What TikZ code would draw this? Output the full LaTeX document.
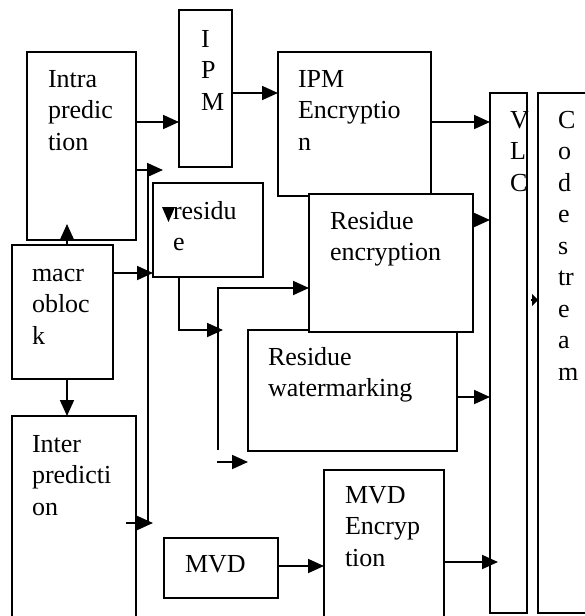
\documentclass[tikz,border=0pt]{standalone}
\usepackage{fontspec}
\setmainfont{Liberation Serif}
\usetikzlibrary{arrows.meta}
\newcommand\fstrut{\rule{0pt}{20pt}}
\begin{document}
\begin{tikzpicture}[x=1pt,y=-1pt,
  box/.style={draw, line width=1.6pt, fill=white, inner sep=0pt, outer sep=0pt},
  txt/.style={anchor=north west, inner sep=0pt, outer sep=0pt, align=left,
    font=\fontsize{26}{31.5}\selectfont},
  arr/.style={-{Triangle[length=16pt,width=14pt]}, line width=1.8pt},
  ln/.style={line width=1.8pt}]
\useasboundingbox (0,0) rectangle (585,616);
\fill[white] (0,0) rectangle (585,616);
\clip (0,0) rectangle (585,616);
% boxes
\node[box, minimum width=53pt, minimum height=157pt] (ipm) at (205.5,88.5) {};
\node[box, minimum width=109pt, minimum height=188pt] (intra) at (81.5,146) {};
\node[box, minimum width=153pt, minimum height=144pt] (ipmenc) at (354.5,124) {};
\node[box, minimum width=37pt, minimum height=520pt] (vlc) at (508.5,353) {};
\node[box, minimum width=62pt, minimum height=520pt] (code) at (569,353) {};
\node[box, minimum width=110pt, minimum height=94pt] (residue) at (208,230) {};
\node[box, minimum width=101pt, minimum height=134pt] (macro) at (62.5,312) {};
\node[box, minimum width=209pt, minimum height=121pt] (wm) at (352.5,390.5) {};
\node[box, minimum width=164pt, minimum height=138pt] (resenc) at (391,263) {};
\node[box, minimum width=124pt, minimum height=224pt] (inter) at (74,528) {};
\node[box, minimum width=114pt, minimum height=60pt] (mvd) at (221,568) {};
\node[box, minimum width=120pt, minimum height=170pt] (mvdenc) at (384,555) {};
% texts
\node[txt] (tintra) at (48,67) {\fstrut Intra\\predic\\tion};
\node[txt] (tipm) at (201,27) {\fstrut I\\P\\M};
\node[txt] (tipmenc) at (298,67) {\fstrut IPM\\Encryptio\\n};
\node[txt] (tres) at (173,199) {\fstrut residu\\e};
\node[txt] (tmacro) at (32,261) {\fstrut macr\\obloc\\k};
\node[txt] (tinter) at (32,432) {\fstrut Inter\\predicti\\on};
\node[txt] (tresenc) at (330,209) {\fstrut Residue\\encryption};
\node[txt] (twm) at (268,345) {\fstrut Residue\\watermarking};
\node[txt] (tmvd) at (185,552) {\fstrut MVD};
\node[txt] (tmvdenc) at (345,483) {\fstrut MVD\\Encryp\\tion};
\node[txt] (tvlc) at (510,108) {\fstrut V\\L\\C};
\node[txt] (tcode) at (558,108) {\fstrut C\\o\\d\\e\\s\\tr\\e\\a\\m};
% free ends
\coordinate (c1) at (163,170);
\coordinate (c2a) at (148,170);
\coordinate (c2b) at (148,523);
\coordinate (c3a) at (126,523);
\coordinate (c3b) at (153,523);
\coordinate (r1) at (179,330);
\coordinate (r2) at (223,330);
\coordinate (v1) at (218,450);
\coordinate (v2) at (218,288);
\coordinate (w1) at (217,462);
\coordinate (u1) at (67,224);
\coordinate (k1) at (531,300);
% connectors
\draw[arr] (intra.east |- 0,122) -- (ipm.west |- 0,122);
\draw[arr] (intra.east |- 0,170) -- (c1);
\draw[ln] (c2a) -- (c2b);
\draw[arr] (c3a) -- (c3b);
\draw[arr] (ipm.east |- 0,93) -- (ipmenc.west |- 0,93);
\draw[arr] (ipmenc.east |- 0,122) -- (vlc.west |- 0,122);
\draw[arr] (macro.east |- 0,273) -- (residue.west |- 0,273);
\draw[arr] (macro.north -| u1) -- (u1);
\draw[arr] (macro.south -| u1) -- (inter.north -| u1);
\draw[arr] (residue.south -| r1) -- (r1) -- (r2);
\draw[arr] (v1) -- (v2) -- (resenc.west |- v2);
\draw[arr] (w1) -- (wm.west |- w1);
\draw[arr] (resenc.east |- 0,220) -- (vlc.west |- 0,220);
\draw[arr] (wm.east |- 0,397) -- (vlc.west |- 0,397);
\draw[arr] (mvd.east |- 0,566) -- (mvdenc.west |- 0,566);
\draw[arr] (mvdenc.east |- 0,562) -- (498,562);
\draw[-{Triangle[length=6pt,width=12pt]}, line width=1.8pt] (k1) -- (code.west |- k1);
\fill (162,207) -- (175,207) -- (168.5,222) -- cycle;
\end{tikzpicture}
\end{document}
